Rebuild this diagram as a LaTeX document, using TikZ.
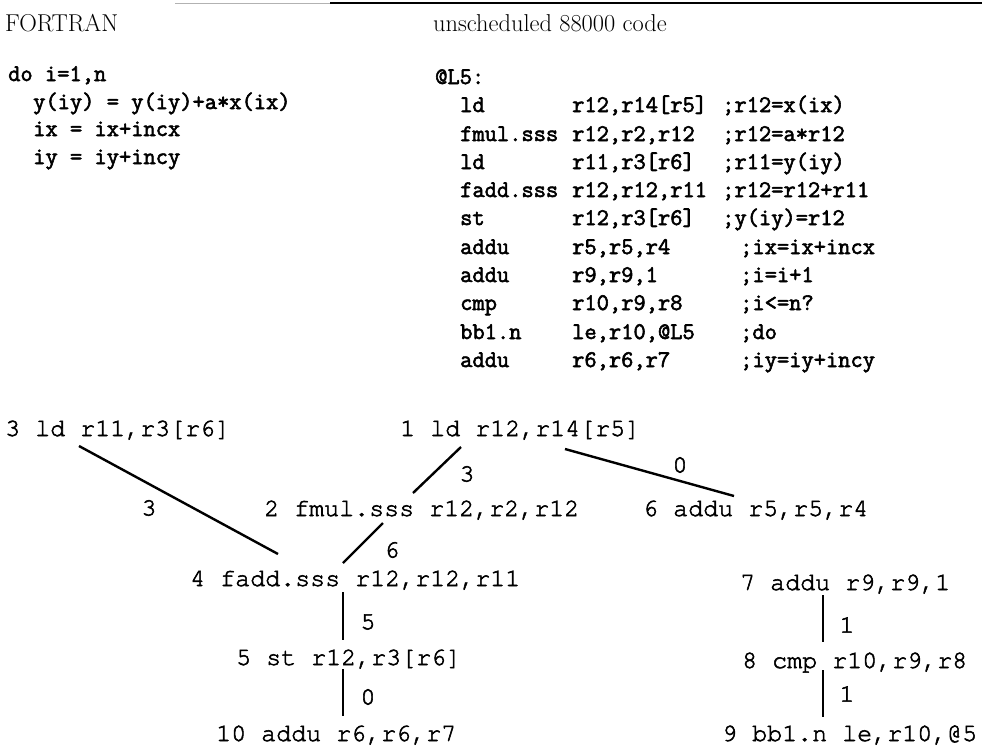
\documentclass[tikz,border=0pt]{standalone}
\usepackage{fontspec}
\usetikzlibrary{calc}
\newfontfamily\codefamily{Latin Modern Mono}[FakeBold=2.4]
\newfontfamily\dagfamily{TeX Gyre Cursor}[FakeBold=2.2]
\newcommand\hdrfont{\fontsize{24.4}{28}\selectfont\rmfamily}
\newcommand\codefont{\fontsize{23.8}{28.3}\selectfont\codefamily}
\newcommand\dagfont{\fontsize{25}{30}\selectfont\dagfamily}
% one assembler line: mnemonic, operands, comment; #4 = width of the operand field
\newcommand\asmline[4]{\makebox[112pt][l]{#1}\makebox[#4][l]{#2}#3}
\begin{document}
\begin{tikzpicture}[x=1pt,y=-1pt,
  hdr/.style={anchor=base west, inner sep=0pt, font=\hdrfont},
  code/.style={anchor=base west, inner sep=0pt, font=\codefont},
  dag/.style={anchor=base west, inner sep=0pt, font=\dagfont},
  lat/.style={inner sep=0pt, font=\dagfont},
  dep/.style={line width=2.4pt},
]
\useasboundingbox (0,0) rectangle (982,755);

% table rule along the top
\draw[gray!60, line width=1pt] (175,3) -- (330,3);
\draw[line width=2pt] (330,3) -- (982,3);

% column headings
\node[hdr] (hF) at (5,31) {FORTRAN};
\node[hdr] (hA) at (433,31) {unscheduled 88000 code};

% FORTRAN loop
\node[code] (f1) at (8,81)  {do i=1,n};
\node[code] (f2) at (33,109) {y(iy) = y(iy)+a*x(ix)};
\node[code] (f3) at (33,136) {ix = ix+incx};
\node[code] (f4) at (33,164) {iy = iy+incy};

% 88000 assembler
\node[code] (a0)  at (435,84)  {@L5:};
\node[code] (a1)  at (460,112) {\asmline{ld}{r12,r14[r5]}{;r12=x(ix)}{150pt}};
\node[code] (a2)  at (460,141) {\asmline{fmul.sss}{r12,r2,r12}{;r12=a*r12}{150pt}};
\node[code] (a3)  at (460,169) {\asmline{ld}{r11,r3[r6]}{;r11=y(iy)}{150pt}};
\node[code] (a4)  at (460,197) {\asmline{fadd.sss}{r12,r12,r11}{;r12=r12+r11}{150pt}};
\node[code] (a5)  at (460,225) {\asmline{st}{r12,r3[r6]}{;y(iy)=r12}{150pt}};
\node[code] (a6)  at (460,254) {\asmline{addu}{r5,r5,r4}{;ix=ix+incx}{168pt}};
\node[code] (a7)  at (460,282) {\asmline{addu}{r9,r9,1}{;i=i+1}{168pt}};
\node[code] (a8)  at (460,310) {\asmline{cmp}{r10,r9,r8}{;i<=n?}{168pt}};
\node[code] (a9)  at (460,339) {\asmline{bb1.n}{le,r10,@L5}{;do}{168pt}};
\node[code] (a10) at (460,367) {\asmline{addu}{r6,r6,r7}{;iy=iy+incy}{168pt}};

% dependence graph
\node[dag] (n3)  at (5,436)   {3 ld r11,r3[r6]};
\node[dag] (n1)  at (400,436) {1 ld r12,r14[r5]};
\node[dag] (n2)  at (264,516) {2 fmul.sss r12,r2,r12};
\node[dag] (n6)  at (643,516) {6 addu r5,r5,r4};
\node[dag] (n4)  at (190,586) {4 fadd.sss r12,r12,r11};
\node[dag] (n7)  at (740,590) {7 addu r9,r9,1};
\node[dag] (n5)  at (236,665) {5 st r12,r3[r6]};
\node[dag] (n8)  at (742,668) {8 cmp r10,r9,r8};
\node[dag] (n10) at (216,741) {10 addu r6,r6,r7};
\node[dag] (n9)  at (722,741) {9 bb1.n le,r10,@5};

\draw[dep] ($(n3.base west)+(74,10)$)  -- ($(n4.base west)+(88,-32)$);
\draw[dep] ($(n1.base west)+(61,11)$)  -- ($(n2.base west)+(149,-23)$);
\draw[dep] ($(n2.base west)+(119,7)$)  -- ($(n4.base west)+(153,-23)$);
\draw[dep] ($(n1.base west)+(165,13)$) -- ($(n6.base west)+(91,-20)$);
\draw[dep] ($(n4.base west)+(153,6)$)  -- ($(n5.base west)+(107,-25)$);
\draw[dep] ($(n5.base west)+(107,4)$)  -- ($(n10.base west)+(127,-25)$);
\draw[dep] ($(n7.base west)+(83,5)$)   -- ($(n8.base west)+(81,-26)$);
\draw[dep] ($(n8.base west)+(81,2)$)   -- ($(n9.base west)+(101,-24)$);

% latencies
\node[lat] (l34)  at (149,508) {3};
\node[lat] (l12)  at (467,474) {3};
\node[lat] (l24)  at (392,550) {6};
\node[lat] (l16)  at (680,465) {0};
\node[lat] (l45)  at (368,622) {5};
\node[lat] (l510) at (368,697) {0};
\node[lat] (l78)  at (847,625) {1};
\node[lat] (l89)  at (847,694) {1};
\end{tikzpicture}
\end{document}
